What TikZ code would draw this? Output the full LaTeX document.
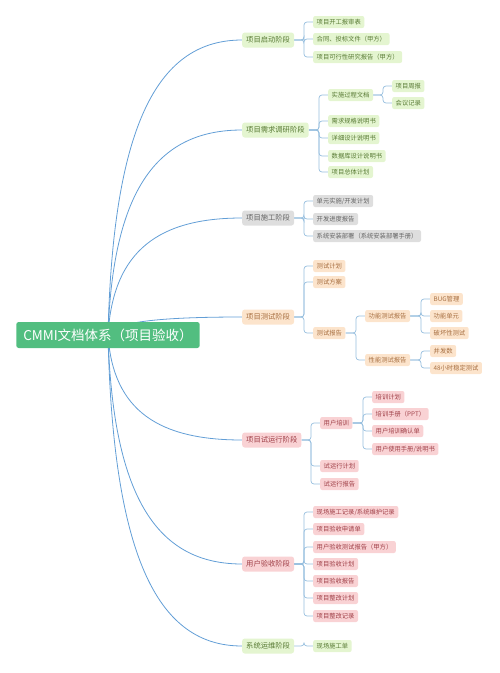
\documentclass[tikz,border=0pt]{standalone}
\usepackage{fontspec}
\setmainfont{Noto Sans CJK SC}
\usetikzlibrary{calc,backgrounds}
\definecolor{RootGreen}{RGB}{82,190,128}
\definecolor{GrnFill}{RGB}{228,245,208}
\definecolor{GrnText}{RGB}{88,122,52}
\definecolor{GryFill}{RGB}{222,222,222}
\definecolor{GryText}{RGB}{100,100,100}
\definecolor{OrgFill}{RGB}{252,228,204}
\definecolor{OrgText}{RGB}{168,112,66}
\definecolor{PnkFill}{RGB}{249,210,212}
\definecolor{PnkText}{RGB}{160,64,72}
\definecolor{TrunkBlue}{RGB}{98,158,214}
\definecolor{BranchBlue}{RGB}{150,190,222}

\begin{document}
\begin{tikzpicture}[
    x=1pt, y=-1pt,
    root/.style={fill=RootGreen, text=white, rounded corners=2.5pt, minimum height=26pt,
      inner xsep=7pt, font=\fontsize{13.5}{15}\selectfont},
    stg/.style={anchor=west, rounded corners=2.5pt, minimum height=15pt, inner xsep=4pt,
      inner ysep=0pt, font=\fontsize{7.3}{8}\selectfont},
    lf/.style={anchor=west, rounded corners=2pt, minimum height=12pt, inner xsep=3.5pt,
      inner ysep=0pt, font=\fontsize{6.3}{7}\selectfont},
    grn/.style={fill=GrnFill, text=GrnText},
    gry/.style={fill=GryFill, text=GryText},
    org/.style={fill=OrgFill, text=OrgText},
    pnk/.style={fill=PnkFill, text=PnkText},
    trunk/.style={TrunkBlue, line width=0.8pt},
    branch/.style={BranchBlue, line width=0.7pt, rounded corners=3pt}
  ]
    \useasboundingbox (0,0) rectangle (500,673);
    \node[root](root) at (108,335) {CMMI文档体系（项目验收）};
    % stages
    \node[stg,grn](qd) at (242,40) {项目启动阶段};
    \node[stg,grn](xq) at (242,130) {项目需求调研阶段};
    \node[stg,gry](sg) at (242,218) {项目施工阶段};
    \node[stg,org](cs) at (242,317) {项目测试阶段};
    \node[stg,pnk](sy) at (242,440) {项目试运行阶段};
    \node[stg,pnk](ys) at (242,564) {用户验收阶段};
    \node[stg,grn](yw) at (242,646) {系统运维阶段};
    % 启动
    \node[lf,grn](qd1) at (313,22) {项目开工报审表};
    \node[lf,grn](qd2) at (313,39) {合同、投标文件（甲方）};
    \node[lf,grn](qd3) at (313,57) {项目可行性研究报告（甲方）};
    % 需求
    \node[lf,grn](xq1) at (328,95) {实施过程文档};
    \node[lf,grn](xq11) at (392,86) {项目周报};
    \node[lf,grn](xq12) at (392,103) {会议记录};
    \node[lf,grn](xq2) at (328,121) {需求规格说明书};
    \node[lf,grn](xq3) at (328,138) {详细设计说明书};
    \node[lf,grn](xq4) at (328,156) {数据库设计说明书};
    \node[lf,grn](xq5) at (328,172) {项目总体计划};
    % 施工
    \node[lf,gry](sg1) at (313,201) {单元实施/开发计划};
    \node[lf,gry](sg2) at (313,219) {开发进度报告};
    \node[lf,gry](sg3) at (313,236) {系统安装部署（系统安装部署手册）};
    % 测试
    \node[lf,org](cs1) at (313,266) {测试计划};
    \node[lf,org](cs2) at (313,282) {测试方案};
    \node[lf,org](cs3) at (313,333) {测试报告};
    \node[lf,org](cs31) at (365,316) {功能测试报告};
    \node[lf,org](cs32) at (365,360) {性能测试报告};
    \node[lf,org](cs311) at (430,299) {BUG管理};
    \node[lf,org](cs312) at (430,316) {功能单元};
    \node[lf,org](cs313) at (430,333) {破坏性测试};
    \node[lf,org](cs321) at (430,351) {并发数};
    \node[lf,org](cs322) at (430,368) {48小时稳定测试};
    % 试运行
    \node[lf,pnk](sy1) at (320,423) {用户培训};
    \node[lf,pnk](sy11) at (372,397) {培训计划};
    \node[lf,pnk](sy12) at (372,414) {培训手册（PPT）};
    \node[lf,pnk](sy13) at (372,431) {用户培训确认单};
    \node[lf,pnk](sy14) at (372,449) {用户使用手册/说明书};
    \node[lf,pnk](sy2) at (320,466) {试运行计划};
    \node[lf,pnk](sy3) at (320,484) {试运行报告};
    % 验收
    \node[lf,pnk](ys1) at (313,512) {现场施工记录/系统维护记录};
    \node[lf,pnk](ys2) at (313,529) {项目验收申请单};
    \node[lf,pnk](ys3) at (313,547) {用户验收测试报告（甲方）};
    \node[lf,pnk](ys4) at (313,564) {项目验收计划};
    \node[lf,pnk](ys5) at (313,581) {项目验收报告};
    \node[lf,pnk](ys6) at (313,598) {项目整改计划};
    \node[lf,pnk](ys7) at (313,616) {项目整改记录};
    % 运维
    \node[lf,grn](yw1) at (313,646) {现场施工单};

    \begin{scope}[on background layer]
      \foreach \s in {qd,xq,sg,cs,sy,ys,yw}
        \draw[trunk] (root.center) .. controls ($(root.center)!0.73!(root.center |- \s.west)+(5,0)$)
          and ($(\s.west)+(-82,0)$) .. (\s.west);
      \foreach \p/\cl in {qd/{qd1,qd2,qd3}, xq/{xq1,xq2,xq3,xq4,xq5}, xq1/{xq11,xq12},
          sg/{sg1,sg2,sg3}, cs/{cs1,cs2,cs3}, cs3/{cs31,cs32}, cs31/{cs311,cs312,cs313},
          cs32/{cs321,cs322}, sy/{sy1,sy2,sy3}, sy1/{sy11,sy12,sy13,sy14},
          ys/{ys1,ys2,ys3,ys4,ys5,ys6,ys7}, yw/{yw1}}
        \foreach \c in \cl
          \draw[branch] (\p.east) -- ($(\c.west |- \p.east)+(-9,0)$) |- (\c.west);
    \end{scope}
  \end{tikzpicture}
\end{document}
